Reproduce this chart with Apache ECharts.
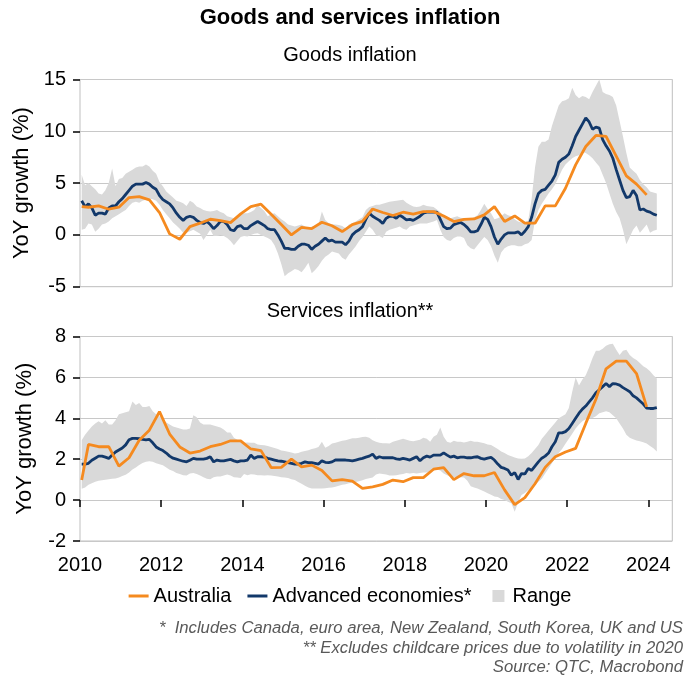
<!DOCTYPE html>
<html>
<head>
<meta charset="utf-8">
<script src="https://cdn.jsdelivr.net/npm/echarts@6/dist/echarts.min.js"></script>
<style>html,body{margin:0;padding:0;background:#fff}#c{width:700px;height:679px}</style>
</head>
<body>
<div id="c"></div>
<script>
// ---------- DATA (monthly from 2010-01; Australia quarterly) ----------
const monthlyStartYear = 2010;
const yearTicks = [2010, 2012, 2014, 2016, 2018, 2020, 2022, 2024];

const goodsAdvanced = [
 3.3, 2.7, 3.0, 2.6, 1.9, 2.1, 2.1, 2.0, 2.6, 2.8,
 2.8, 3.2, 3.5, 3.9, 4.3, 4.7, 4.9, 4.9, 4.9, 5.05,
 4.9, 4.6, 4.4, 3.8, 3.4, 3.2, 3.0, 2.6, 2.1, 1.7,
 1.4, 1.7, 1.8, 1.7, 1.4, 1.2, 1.1, 1.3, 1.0, 0.6,
 0.9, 1.3, 1.3, 1.0, 0.5, 0.4, 0.8, 0.9, 0.6, 0.6,
 0.9, 1.1, 1.3, 1.1, 0.9, 0.6, 0.5, 0.5, 0.0, -0.6,
 -1.3, -1.3, -1.4, -1.4, -1.1, -0.9, -0.9, -1.0, -1.4, -1.1,
 -0.9, -0.6, -0.3, -0.6, -0.5, -0.7, -0.7, -0.7, -0.95, -0.6,
 0.0, 0.3, 0.5, 0.8, 1.5, 2.1, 1.8, 1.6, 1.4, 1.1,
 1.6, 1.8, 1.8, 1.6, 1.9, 1.7, 1.45, 1.5, 1.4, 1.6,
 1.8, 2.1, 2.2, 2.2, 2.2, 2.2, 1.5, 0.8, 0.6, 0.65,
 1.0, 1.1, 1.2, 1.0, 0.7, 0.3, 0.3, 0.4, 1.0, 1.7,
 1.5, 0.8, -0.2, -0.9, -0.4, 0.0, 0.2, 0.2, 0.2, 0.3,
 0.0, 0.35, 0.8, 1.7, 3.0, 4.0, 4.3, 4.4, 4.8, 5.2,
 5.8, 7.0, 7.3, 7.5, 7.8, 8.6, 9.5, 10.1, 10.7, 11.3,
 10.9, 10.2, 10.4, 10.3, 9.2, 8.6, 8.1, 7.4, 6.3, 5.3,
 4.3, 3.6, 3.7, 4.3, 3.8, 2.4, 2.5, 2.3, 2.2, 2.0, 1.9
];
const goodsRangeHigh = [
 5.8, 4.8, 5.0, 4.7, 4.4, 4.0, 3.9, 4.3, 5.0, 6.4,
 4.7, 5.4, 5.5, 5.9, 6.1, 6.3, 6.5, 6.6, 6.6, 6.8,
 6.6, 6.2, 5.9, 5.1, 4.7, 4.2, 3.9, 3.6, 3.3, 3.2,
 3.05, 2.8, 3.3, 3.1, 2.75, 2.6, 2.4, 2.3, 2.25, 2.3,
 2.4, 2.2, 2.1, 1.8, 1.7, 1.6, 1.9, 2.0, 2.1, 2.1,
 2.2, 2.4, 2.9, 2.6, 2.3, 1.8, 2.0, 2.1, 1.8, 1.5,
 1.3, 1.0, 0.9, 0.8, 0.9, 1.0, 0.8, 0.65, 0.8, 0.9,
 1.0, 2.25, 1.45, 1.15, 1.0, 1.0, 0.95, 0.87, 0.65, 1.0,
 1.15, 1.3, 1.5, 1.7, 2.4, 2.7, 2.8, 2.9, 2.9, 3.0,
 3.1, 3.2, 3.25, 3.3, 3.35, 3.4, 3.1, 2.9, 2.75, 2.7,
 2.75, 2.9, 2.8, 2.75, 2.7, 2.45, 2.2, 1.9, 1.7, 1.6,
 1.7, 1.8, 1.65, 1.6, 1.45, 1.5, 1.7, 1.9, 2.4, 3.0,
 2.5, 2.1, 1.5, 1.6, 1.8, 2.1, 1.9, 1.8, 1.5, 1.3,
 1.2, 1.2, 1.4, 3.5, 6.5, 8.5, 9.0, 9.0, 9.2, 10.5,
 11.5, 12.5, 12.9, 13.0, 13.2, 14.2, 13.5, 13.2, 13.4, 13.3,
 13.1, 13.8, 14.4, 15.0, 13.8, 13.6, 13.5, 13.3, 12.5, 11.0,
 9.5, 7.9, 6.5, 6.2, 5.9, 5.3, 4.9, 4.6, 4.2, 4.1, 4.0
];
const goodsRangeLow = [
 0.5, 0.6, 1.1, 1.0, 0.3, 0.6, 1.0, 1.1, 1.3, 1.6,
 1.8, 2.0, 2.2, 2.4, 2.8, 3.1, 3.2, 3.1, 3.3, 3.4,
 3.5, 3.45, 3.3, 2.9, 2.4, 2.0, 1.6, 1.2, 0.9, 0.6,
 0.2, 0.2, 0.35, 0.5, 0.3, 0.1, -0.5, 0.0, 0.5, -0.1,
 -0.1, 0.0, -0.1, -0.3, -0.6, -1.0, -0.6, -0.2, -0.1, -0.15,
 0.0, 0.1, 0.15, 0.0, -0.15, -0.3, -0.5, -1.0, -1.8, -2.8,
 -4.0, -3.7, -3.5, -3.3, -3.4, -3.6, -3.2, -2.7, -3.7, -3.4,
 -3.0, -2.5, -2.1, -1.9, -1.6, -1.7, -1.8, -2.2, -2.4, -1.9,
 -1.5, -1.1, -0.6, -0.2, 0.3, 0.8, 0.5, 0.0, -0.1, -0.3,
 0.3, 0.5, 0.6, 0.7, 0.8, 0.6, 0.5, 0.8, 0.9, 1.0,
 1.1, 1.1, 1.1, 1.2, 1.3, 1.45, 0.5, -0.2, -0.5, -0.6,
 -0.3, -0.15, -0.15, -0.3, -1.0, -1.3, -1.4, -1.0, -0.6, -0.2,
 -0.5, -1.1, -2.0, -2.7, -1.7, -1.3, -1.1, -1.0, -1.0, -1.1,
 -1.1, -0.9, -0.8, -0.5, 1.4, 2.4, 3.0, 3.5, 4.0, 4.4,
 4.9, 5.6, 6.3, 6.8, 7.1, 7.4, 7.6, 7.7, 8.0, 7.9,
 7.7, 7.4, 7.0, 6.6, 5.8, 5.0, 4.0, 3.0, 2.2, 1.6,
 0.5, -0.9, -0.2, 0.5, 0.9, 0.2, 0.6, 1.0, 0.2, 0.4, 0.5
];
const goodsAustralia = [
 2.73, 2.67, 2.8, 2.48, 2.67, 3.6, 3.7, 3.38, 2.16, 0.1,
 -0.42, 0.8, 1.13, 1.51, 1.38, 1.19, 2.03, 2.73, 2.96, 2.0,
 1.0, 0.0, 0.72, 0.6, 1.22, 0.88, 0.32, 1.0, 1.3, 2.5,
 2.16, 1.87, 2.19, 2.0, 2.25, 2.25, 1.83, 1.29, 1.5, 1.54,
 1.93, 2.73, 1.29, 1.83, 1.13, 1.13, 2.8, 2.8, 4.5, 6.76,
 8.53, 9.6, 9.5, 7.6, 5.7, 4.9, 3.86
];

const servicesAdvanced = [
 1.76, 1.76, 1.8, 1.95, 2.05, 2.15, 2.15, 2.1, 2.04, 2.2,
 2.35, 2.45, 2.55, 2.7, 2.95, 3.02, 3.02, 3.0, 2.97, 2.95,
 2.97, 2.8, 2.6, 2.5, 2.42, 2.3, 2.15, 2.05, 2.0, 1.95,
 1.9, 1.87, 1.95, 2.04, 2.0, 2.0, 2.0, 2.04, 2.12, 1.87,
 1.96, 1.92, 1.92, 1.96, 1.99, 1.92, 1.87, 1.92, 1.92, 1.96,
 2.2, 2.04, 2.12, 2.12, 2.1, 2.04, 2.0, 1.96, 1.92, 1.9,
 1.87, 1.83, 1.8, 1.76, 1.76, 1.8, 1.87, 1.83, 1.83, 1.8,
 1.76, 1.92, 1.85, 1.83, 1.87, 1.96, 1.96, 1.96, 1.96, 1.94,
 1.92, 1.96, 2.0, 2.04, 2.1, 2.15, 2.25, 2.04, 2.12, 2.07,
 2.07, 2.07, 2.07, 2.02, 1.99, 2.04, 2.0, 1.96, 2.04, 2.12,
 1.92, 2.07, 2.15, 2.1, 2.2, 2.2, 2.2, 2.31, 2.2, 2.1,
 2.15, 2.07, 2.1, 2.1, 2.07, 2.07, 2.1, 2.12, 2.04, 2.0,
 2.05, 2.09, 1.96, 1.76, 1.6, 1.55, 1.47, 1.22, 1.35, 1.01,
 1.3, 1.28, 1.55, 1.45, 1.66, 1.87, 2.05, 2.15, 2.3, 2.61,
 2.85, 3.29, 3.29, 3.35, 3.5, 3.75, 4.0, 4.25, 4.45, 4.6,
 4.8, 5.0, 5.25, 5.4, 5.55, 5.7, 5.55, 5.7, 5.68, 5.62,
 5.5, 5.4, 5.3, 5.1, 5.0, 4.85, 4.7, 4.5, 4.48, 4.48, 4.52
];
const servicesRangeHigh = [
 2.93, 3.2, 3.4, 3.6, 3.75, 3.85, 3.75, 3.9, 3.7, 3.7,
 3.9, 4.2, 4.25, 4.3, 4.35, 4.82, 4.65, 4.75, 4.55, 4.55,
 4.6, 4.35, 4.2, 4.1, 3.95, 3.8, 3.7, 3.6, 3.55, 3.5,
 3.45, 3.45, 3.5, 4.15, 4.05, 3.8, 3.7, 3.7, 3.7, 3.65,
 3.6, 3.55, 3.45, 3.3, 3.3, 3.05, 2.95, 2.85, 2.8, 2.82,
 2.8, 2.8, 2.72, 2.7, 2.68, 2.65, 2.6, 2.55, 2.5, 2.42,
 2.4, 2.36, 2.33, 2.28, 2.3, 2.36, 2.4, 2.44, 2.5, 2.53,
 2.6, 2.85, 2.56, 2.65, 2.77, 2.8, 2.85, 2.9, 2.93, 2.97,
 3.02, 3.02, 3.05, 3.08, 3.1, 3.05, 2.93, 2.85, 2.8, 2.78,
 2.78, 2.77, 2.85, 2.9, 2.95, 3.0, 2.95, 2.9, 2.88, 2.92,
 2.95, 3.05, 3.0, 2.85, 3.1, 3.2, 3.55, 3.1, 2.85, 2.8,
 2.9, 2.85, 2.85, 2.82, 2.85, 2.9, 2.85, 2.85, 2.82, 2.78,
 2.72, 2.7, 2.6, 2.5, 2.38, 2.3, 2.2, 2.15, 2.08, 2.04,
 2.02, 2.04, 2.15, 2.3, 2.5, 2.7, 3.0, 3.2, 3.4, 3.6,
 3.8, 4.0, 4.1, 4.2, 4.5, 5.3, 6.0, 5.6, 5.9, 6.1,
 6.5, 6.95, 7.3, 7.3, 7.4, 7.55, 7.62, 7.65, 7.35, 7.1,
 7.3, 7.35, 7.1, 6.95, 6.85, 6.7, 6.55, 6.45, 6.3, 6.1, 5.95
];
const servicesRangeLow = [
 0.55, 0.62, 0.75, 0.82, 0.9, 0.95, 0.97, 1.0, 1.02, 1.05,
 1.06, 1.1, 1.18, 1.24, 1.35, 1.5, 1.6, 1.72, 1.82, 1.88,
 1.9, 1.88, 1.8, 1.75, 1.7, 1.6, 1.48, 1.42, 1.33, 1.28,
 1.22, 1.2, 1.3, 1.33, 1.28, 1.2, 1.12, 1.05, 1.02, 1.12,
 1.15, 1.15, 1.2, 1.25, 1.2, 1.12, 1.1, 1.08, 1.28, 1.22,
 1.27, 1.25, 1.22, 1.22, 1.2, 1.22, 1.2, 1.18, 1.15, 1.12,
 1.1, 1.08, 1.02, 0.98, 0.88, 0.8, 0.7, 0.62, 0.57, 0.57,
 0.57, 0.57, 0.58, 0.6, 0.62, 0.65, 0.7, 0.75, 0.78, 0.82,
 0.85, 0.88, 0.92, 0.97, 1.03, 1.07, 1.1, 1.25, 1.3, 1.28,
 1.25, 1.2, 1.2, 1.22, 1.25, 1.28, 1.32, 1.3, 1.32, 1.3,
 1.32, 1.35, 1.35, 1.38, 1.45, 1.5, 1.45, 1.3, 1.22, 1.15,
 1.12, 1.1, 1.12, 1.1, 0.95, 0.68, 0.62, 0.57, 0.5, 0.42,
 0.33, 0.26, 0.18, 0.15, 0.05, 0.0, -0.08, -0.15, -0.57, -0.1,
 0.25, 0.35, 0.5, 0.62, 0.75, 0.9, 1.05, 1.3, 1.55, 1.8,
 2.05, 2.3, 2.5, 2.75, 3.0, 3.25, 3.5, 3.7, 3.85, 3.95,
 4.0, 4.02, 4.1, 4.25, 4.3, 4.35, 4.3, 4.15, 4.0, 3.75,
 3.5, 3.2, 3.05, 2.97, 2.92, 2.88, 2.83, 2.77, 2.65, 2.53, 2.38
];
const servicesAustralia = [
 0.98, 2.72, 2.61, 2.61, 1.66, 2.07, 2.93, 3.42, 4.33, 3.23,
 2.6, 2.3, 2.4, 2.61, 2.72, 2.9, 2.9, 2.5, 2.42, 1.59,
 1.6, 2.0, 1.63, 1.71, 1.45, 0.94, 1.0, 0.93, 0.57, 0.65,
 0.77, 0.98, 0.9, 1.1, 1.1, 1.51, 1.59, 1.0, 1.3, 1.19,
 1.19, 1.35, 0.5, -0.22, 0.12, 0.8, 1.6, 2.12, 2.35, 2.53,
 3.75, 4.93, 6.42, 6.8, 6.8, 6.19, 4.56
];

// ---------- build x positions (month centres) ----------
function monthX(idx) { return monthlyStartYear + (idx + 0.5) / 12; }
const monthIdx = goodsAdvanced.map((_, i) => i);
// Australia: first observation Jan 2010, then quarter ends (Mar, Jun, Sep, Dec)
const ausMonthIdx = [0];
for (let y = 2010; y <= 2023; y++) { [2, 5, 8, 11].forEach(q => ausMonthIdx.push((y - 2010) * 12 + q)); }

function pairs(idx, vals) { return vals.map((v, i) => [monthX(idx[i]), v]); }

const FONT = '"Liberation Sans", Arial, Helvetica, sans-serif';
const ORANGE = '#F58A1F';
const NAVY = '#12386A';
const GREY = '#D9D9D9';
const xMax = 2024.59;

const lineIcon = 'path://M0,0M20,14M0,5.5h20v3h-20z';
const boxIcon = 'path://M0,0M20,14M5,1h12v12h-12z';

function bandSeries(x, y, lo, hi) {
  const data = monthIdx.map((m, i) => [monthX(m), lo[i], hi[i]]);
  return {
    type: 'custom', name: 'Range', xAxisIndex: x, yAxisIndex: y, coordinateSystem: 'cartesian2d',
    data, encode: { x: 0, y: [1, 2] }, silent: true, z: 1,
    itemStyle: { color: GREY },
    renderItem: function (params, api) {
      if (params.dataIndexInside !== 0) return null;
      const n = params.dataInsideLength;
      const top = [], bottom = [];
      for (let j = 0; j < n; j++) {
        top.push(api.coord([api.value(0, j), api.value(2, j)]));
        bottom.push(api.coord([api.value(0, j), api.value(1, j)]));
      }
      return { type: 'polygon', shape: { points: top.concat(bottom.reverse()) },
        style: { fill: GREY, stroke: null } };
    }
  };
}
function lineSeries(x, y, name, data, color) {
  return { type: 'line', name, xAxisIndex: x, yAxisIndex: y, data, symbol: 'none',
    lineStyle: { color, width: 2.8 }, itemStyle: { color }, color, z: name === 'Australia' ? 4 : 3 };
}

const yAxisCommon = {
  type: 'value', name: 'YoY growth (%)', nameLocation: 'middle', nameGap: 44, nameRotate: 90,
  nameTextStyle: { fontSize: 22, color: '#000', fontFamily: FONT },
  axisLine: { show: false },
  axisTick: { show: true, length: 7, lineStyle: { color: '#000', width: 1.5 } },
  axisLabel: { fontSize: 20, color: '#000', fontFamily: FONT, margin: 14 },
  splitLine: { lineStyle: { color: '#C8C8C8', width: 1 } }
};

const footStyle = { align: 'right', textAlign: 'right', verticalAlign: 'middle', textVerticalAlign: 'middle',
  fontSize: 16.7, fontStyle: 'italic', fontFamily: FONT, fill: '#595959' };

const option = {
  animation: false,
  backgroundColor: '#fff',
  title: [
    { text: 'Goods and services inflation', left: 'center', top: 5, padding: 0,
      textStyle: { fontSize: 22, fontWeight: 'bold', color: '#000', fontFamily: FONT, lineHeight: 26 } },
    { text: 'Goods inflation', left: 'center', top: 43, padding: 0,
      textStyle: { fontSize: 20, fontWeight: 'normal', color: '#000', fontFamily: FONT, lineHeight: 24 } },
    { text: 'Services inflation**', left: 'center', top: 299, padding: 0,
      textStyle: { fontSize: 20, fontWeight: 'normal', color: '#000', fontFamily: FONT, lineHeight: 24 } }
  ],
  grid: [
    { left: 80, right: 27.7, top: 79.5, height: 207.2, show: true, borderColor: '#BFBFBF', borderWidth: 1 },
    { left: 80, right: 27.7, top: 336.5, height: 204.5, show: true, borderColor: '#BFBFBF', borderWidth: 1 }
  ],
  xAxis: [
    { gridIndex: 0, type: 'value', min: 2010, max: xMax, interval: 2,
      axisLine: { show: false }, axisTick: { show: false }, axisLabel: { show: false }, splitLine: { show: false } },
    { gridIndex: 1, type: 'value', min: 2010, max: xMax, interval: 2,
      axisLine: { show: false },
      axisTick: { show: true, customValues: yearTicks, length: 7, lineStyle: { color: '#000', width: 1.5 } },
      axisLabel: { customValues: yearTicks, fontSize: 20, color: '#000', fontFamily: FONT, margin: 14,
        formatter: v => String(Math.round(v)) },
      splitLine: { show: false } }
  ],
  yAxis: [
    Object.assign({}, yAxisCommon, { gridIndex: 0, min: -5, max: 15, interval: 5 }),
    Object.assign({}, yAxisCommon, { gridIndex: 1, min: -2, max: 8, interval: 2 })
  ],
  legend: {
    top: 585, left: 'center', padding: 0, itemGap: 16, itemWidth: 20, itemHeight: 14,
    textStyle: { fontSize: 20, color: '#000', fontFamily: FONT, lineHeight: 22 },
    itemStyle: { borderWidth: 0 },
    data: [
      { name: 'Australia', icon: lineIcon, itemStyle: { color: ORANGE } },
      { name: 'Advanced economies*', icon: lineIcon, itemStyle: { color: NAVY } },
      { name: 'Range', icon: boxIcon, itemStyle: { color: GREY } }
    ]
  },
  graphic: [
    { type: 'text', x: 683, y: 628, style: Object.assign({ text: '*  Includes Canada, euro area, New Zealand, South Korea, UK and US' }, footStyle) },
    { type: 'text', x: 683, y: 648, style: Object.assign({ text: '** Excludes childcare prices due to volatility in 2020' }, footStyle) },
    { type: 'text', x: 683, y: 667, style: Object.assign({ text: 'Source: QTC, Macrobond' }, footStyle) }
  ],
  series: [
    bandSeries(0, 0, goodsRangeLow, goodsRangeHigh),
    lineSeries(0, 0, 'Advanced economies*', pairs(monthIdx, goodsAdvanced), NAVY),
    lineSeries(0, 0, 'Australia', pairs(ausMonthIdx, goodsAustralia), ORANGE),
    bandSeries(1, 1, servicesRangeLow, servicesRangeHigh),
    lineSeries(1, 1, 'Advanced economies*', pairs(monthIdx, servicesAdvanced), NAVY),
    lineSeries(1, 1, 'Australia', pairs(ausMonthIdx, servicesAustralia), ORANGE)
  ]
};

const chart = echarts.init(document.getElementById('c'), null, { renderer: 'canvas' });
chart.setOption(option);
</script>
</body>
</html>
